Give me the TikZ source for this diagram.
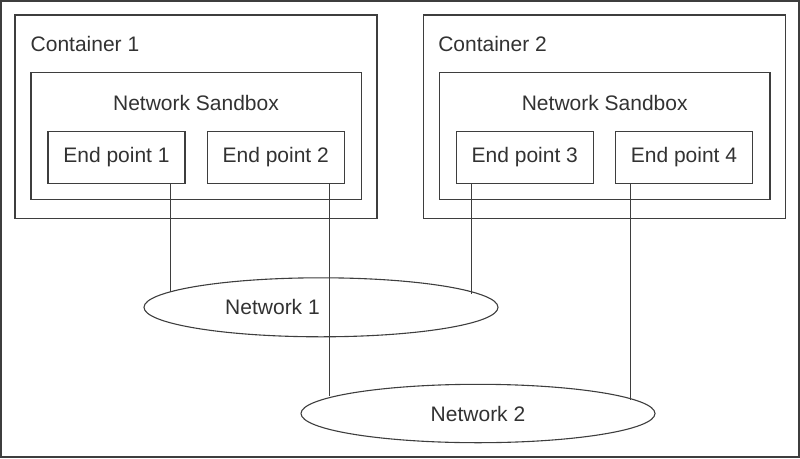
\documentclass[tikz,border=0pt]{standalone}
\usepackage{fontspec}
\setmainfont{Liberation Sans}
\usetikzlibrary{shapes.geometric,calc}
\definecolor{linec}{RGB}{62,62,62}
\definecolor{textc}{RGB}{50,50,50}
\begin{document}
\begin{tikzpicture}[x=1pt,y=-1pt,
  every node/.style={text=textc,font=\fontsize{21}{25}\selectfont,inner sep=0pt,outer sep=0pt},
  box/.style={draw=linec,line width=1.1pt,rectangle},
  endbox/.style={box,minimum width=137pt,minimum height=51.6pt},
  sandbox/.style={box,minimum width=330.5pt,minimum height=127pt},
  contbox/.style={box,minimum width=362pt,minimum height=203.5pt},
  net/.style={draw=linec,line width=1.1pt,ellipse,minimum width=354pt},
  wire/.style={draw=linec,line width=1.1pt}]
\useasboundingbox (0,0) rectangle (800,458);
\draw[linec,line width=2pt] (1,1) rectangle (799,457);

% containers
\node[contbox] (c1) at (196,116.75) {};
\node[contbox] (c2) at (604.7,116.75) {};
\node[anchor=base west] (c1t) at (30.7,51.7) {Container 1};
\node[anchor=base west] (c2t) at (438.3,51.7) {Container 2};

% sandboxes
\node[sandbox] (s1) at (196.25,135.8) {};
\node[sandbox] (s2) at (604.7,135.8) {};
\node[anchor=base] (s1t) at (196,110) {Network Sandbox};
\node[anchor=base] (s2t) at (604.7,110) {Network Sandbox};

% end points
\node[endbox] (e1) at (116.5,157.5) {End point 1};
\node[endbox] (e2) at (275.7,157.5) {End point 2};
\node[endbox] (e3) at (524.8,157.5) {End point 3};
\node[endbox] (e4) at (684,157.5) {End point 4};

% networks
\node[net,minimum height=59pt,label={[xshift=-48.5pt]center:Network 1}] (n1) at (321,307.3) {};
\node[net,minimum height=58.4pt] (n2) at (478,413.5) {Network 2};

% wire x positions
\coordinate (x1) at (170.3,0);
\coordinate (x2) at (329.3,0);
\coordinate (x3) at (471.7,0);
\coordinate (x4) at (630.3,0);

\draw[wire] (e1.south -| x1) -- (x1 |- n1.174.13);
\draw[wire] (e3.south -| x3) -- (x3 |- n1.5.87);
\draw[wire] (e2.south -| x2) -- (x2 |- n2.173.92);
\draw[wire] (e4.south -| x4) -- (x4 |- n2.5.58);
\end{tikzpicture}
\end{document}
